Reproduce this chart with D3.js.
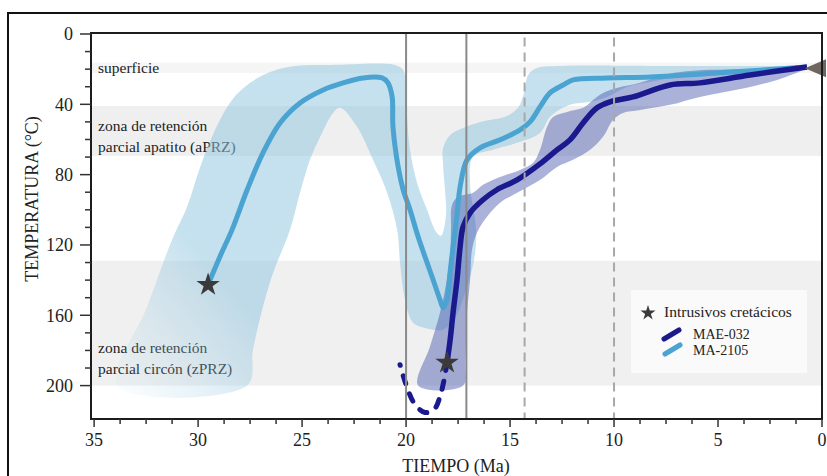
<!DOCTYPE html>
<html>
<head>
<meta charset="utf-8">
<script src="https://cdn.jsdelivr.net/npm/d3@7"></script>
<style>
  body { margin: 0; background: #fff; }
  svg text { font-family: "Liberation Serif", "Times New Roman", serif; fill: #222; }
</style>
</head>
<body>
<svg id="chart" width="827" height="476"></svg>
<script>
// zones (temperature ranges, °C)
const zoneTop = [16.3, 41, 129];
const zoneBottom = [22.2, 69.3, 200];
const zoneLabels = [['superficie'], ['zona de retención', 'parcial apatito (aPRZ)'], ['zona de retención', 'parcial circón (zPRZ)']];

// vertical reference times (Ma)
const eventTimes = [20, 17.1, 14.3, 10];

const xTicks = [35, 30, 25, 20, 15, 10, 5, 0];
const yTicks = [0, 40, 80, 120, 160, 200];

const seriesNames = ['MAE-032', 'MA-2105'];

// MA-2105 path [time Ma, temperature °C]
const ma2105 = [
  [29.52, 142.6], [28.91, 125.6], [28.37, 111.4], [27.64, 88.6], [26.88, 67.6], [26.06, 50.6],
  [25.10, 39.2], [23.99, 31.8], [23.03, 27.8], [22.07, 25.0], [21.15, 25.0], [20.87, 27.8],
  [20.67, 35.8], [20.63, 52.8], [20.38, 75.6], [20.14, 88.6], [19.81, 100], [19.42, 115.3],
  [18.70, 139.8], [18.37, 151.1], [18.22, 155.7], [18.03, 151.1], [17.88, 135.2], [17.74, 121],
  [17.55, 102.8], [17.40, 86.9], [17.07, 71.6], [16.44, 64.8], [15.48, 60.2], [14.52, 54.5],
  [14.04, 50], [13.56, 41.5], [13.08, 33.5], [12.45, 29], [11.97, 26.1], [10.34, 25],
  [8.27, 24.4], [5.05, 22.2], [0.72, 18.8]
];

// MAE-032 path (solid) and its dashed part below the intrusion
const mae032 = [
  [18.03, 186.9], [17.88, 173.9], [17.74, 158.5], [17.55, 139.8], [17.40, 121], [17.26, 109.7],
  [16.92, 101.7], [16.30, 94.3], [15.63, 88.6], [14.66, 83], [13.56, 73.9], [12.74, 65.9],
  [12.12, 60.2], [11.49, 50.6], [10.82, 42], [10.19, 38.6], [9.09, 35.8], [7.31, 29],
  [5.87, 27.8], [3.46, 23.3], [0.72, 18.8]
];
const mae032Early = [
  [18.03, 186.9], [18.17, 196.6], [18.37, 206.3], [18.65, 213.6], [19.09, 215.3],
  [19.57, 210.8], [20.0, 199.4], [20.29, 188.1]
];

// envelope outlines [time, temp]
const ma2105Env = [
  [33.89, 200], [32.45, 155.1], [31.25, 117.0], [30.53, 98.3], [29.90, 75.6], [29.18, 54.5],
  [28.37, 37.5], [27.50, 27.8], [26.54, 21.6], [25.34, 18.2], [23.65, 17.6], [20.53, 17.6],
  [20.14, 20.5], [20.0, 29.0], [19.95, 47.2], [19.81, 65.9], [19.47, 84.7], [18.99, 100],
  [18.56, 112.5], [18.32, 114.8], [18.08, 102.8], [18.13, 88.6], [18.22, 74.4], [18.22, 64.8],
  [17.88, 57.4], [17.26, 53.4], [16.44, 50], [15.14, 46.6], [14.62, 42], [14.33, 33.5],
  [14.13, 23.3], [13.70, 19.3], [12.60, 18.2], [8.27, 18.2], [0.72, 18.8],
  [2.98, 21.0], [5.87, 22.7], [7.31, 25.0], [8.27, 27.3], [9.38, 30.1], [10.34, 35.8],
  [11.15, 38.6], [12.12, 40.3], [13.08, 47.2], [13.56, 56.3], [14.66, 61.9], [15.82, 65.9],
  [16.78, 69.9], [16.92, 85.8], [16.63, 111.4], [16.73, 128.4], [17.12, 145.5], [17.64, 161.4],
  [18.22, 168.2], [19.18, 167.0], [19.66, 164.2], [19.90, 158.5], [20.14, 145.5], [20.29, 130.1],
  [20.43, 111.4], [20.91, 90.3], [21.59, 71.6], [22.36, 52.8], [23.17, 42.0], [23.51, 44.9],
  [24.13, 58.5], [24.62, 71.6], [25.10, 90.3], [25.58, 111.4], [26.39, 135.8], [26.88, 155.1],
  [27.36, 179.5], [27.64, 200]
];
const mae032Env = [
  [19.42, 200], [18.85, 177.8], [18.37, 158.5], [18.08, 142.6], [17.88, 125.6], [17.84, 111.4],
  [17.79, 97.2], [17.50, 92.6], [16.78, 90.3], [16.30, 85.8], [15.48, 81.3], [14.52, 77.3],
  [13.89, 73.3], [13.56, 65.9], [13.22, 52.8], [12.93, 47.2], [12.26, 44.3], [11.49, 42.0],
  [11.01, 37.5], [10.53, 33.5], [9.86, 30.7], [8.75, 27.8], [7.64, 23.3], [6.35, 21.0],
  [3.46, 19.9], [0.72, 18.8],
  [1.88, 25.0], [3.46, 30.1], [5.87, 35.8], [7.31, 40.3], [8.75, 43.2], [9.57, 44.9],
  [10.05, 48.9], [10.53, 58.5], [11.15, 65.9], [11.97, 71.6], [12.74, 75.6], [13.56, 83.0],
  [14.66, 90.3], [15.48, 96.0], [16.11, 104], [16.59, 113.1], [16.83, 122.7], [16.92, 139.8],
  [17.07, 158.5], [17.16, 186.9], [17.26, 200]
];

const intrusions = [[29.52, 142.6], [18.03, 186.9]];
const surfacePoint = [0, 19.5];

const svg = d3.select('#chart');

const x = d3.scaleLinear().domain([35.15, 0]).range([91, 822]);
const y = d3.scaleLinear().domain([0, 219]).range([34, 419]);

const light = '#4aa3d0';
const dark = '#1a1a8e';

// outer frame
svg.append('rect')
  .attr('x', 8).attr('y', 13).attr('width', 830).attr('height', 480)
  .attr('fill', 'none').attr('stroke', '#111').attr('stroke-width', 2);

// zones
const zoneFill = ['#f5f5f5', '#efefef', '#f0f0f0'];
svg.selectAll('rect.zone')
  .data(zoneTop)
  .enter().append('rect')
  .attr('class', 'zone')
  .attr('x', x(35.15)).attr('width', x(0) - x(35.15))
  .attr('y', (d) => y(d))
  .attr('height', (d, i) => y(zoneBottom[i]) - y(d))
  .attr('fill', (d, i) => zoneFill[i]);

const labelAt = [21.9, 55.1, 181.3];
zoneLabels.forEach((lines, i) => {
  const t = svg.append('text')
    .attr('x', 98).attr('y', y(labelAt[i]))
    .style('font-size', '15.5px');
  lines.forEach((l, j) => {
    t.append('tspan').attr('x', 98).attr('dy', j === 0 ? 0 : 21).text(l);
  });
});

// envelopes
const defs = svg.append('defs');
const grad = defs.append('linearGradient')
  .attr('id', 'fadeLeft')
  .attr('gradientUnits', 'userSpaceOnUse')
  .attr('x1', x(33.8)).attr('y1', y(200))
  .attr('x2', x(28.4)).attr('y2', y(145));
grad.append('stop').attr('offset', 0).attr('stop-color', '#a2cfe6').attr('stop-opacity', 0.06);
grad.append('stop').attr('offset', 1).attr('stop-color', '#90c5df').attr('stop-opacity', 0.52);

const area = d3.line()
  .x((d) => x(d[0]))
  .y((d) => y(d[1]))
  .curve(d3.curveCatmullRomClosed.alpha(0.5));

svg.append('path')
  .attr('d', area(ma2105Env))
  .attr('fill', 'url(#fadeLeft)');

svg.append('path')
  .attr('d', area(mae032Env))
  .attr('fill', '#3747a6')
  .attr('fill-opacity', 0.42);

// series lines
const line = d3.line()
  .x((d) => x(d[0]))
  .y((d) => y(d[1]))
  .curve(d3.curveCatmullRom.alpha(0.5));

svg.append('path')
  .attr('d', line(ma2105))
  .attr('fill', 'none')
  .attr('stroke', light)
  .attr('stroke-width', 5)
  .attr('stroke-linejoin', 'round');

svg.append('path')
  .attr('d', line(mae032))
  .attr('fill', 'none')
  .attr('stroke', dark)
  .attr('stroke-width', 5.5)
  .attr('stroke-linejoin', 'round');

svg.append('path')
  .attr('d', line(mae032Early))
  .attr('fill', 'none')
  .attr('stroke', dark)
  .attr('stroke-width', 5)
  .attr('stroke-linecap', 'round')
  .attr('stroke-dasharray', '8,11');

// vertical reference lines
svg.selectAll('line.event')
  .data(eventTimes)
  .enter().append('line')
  .attr('class', 'event')
  .attr('x1', (d) => x(d)).attr('x2', (d) => x(d))
  .attr('y1', (d, i) => i < 2 ? y(0) - 1 : y(2))
  .attr('y2', y(219))
  .attr('stroke', (d, i) => i < 2 ? '#8a8a8a' : '#a8a8a8')
  .attr('stroke-width', 2)
  .attr('stroke-dasharray', (d, i) => i < 2 ? null : '9,6');

// stars
const star = d3.symbol().type(d3.symbolStar);
svg.selectAll('path.star')
  .data(intrusions)
  .enter().append('path')
  .attr('class', 'star')
  .attr('d', star.size(170)())
  .attr('transform', (d) => `translate(${x(d[0])},${y(d[1])})`)
  .attr('fill', '#3a3a3a');

// surface marker
svg.append('path')
  .attr('d', 'M-17,0L4,-9L4,9Z')
  .attr('transform', `translate(${x(surfacePoint[0])},${y(surfacePoint[1])})`)
  .attr('fill', '#6e6561');

// plot frame
svg.append('rect')
  .attr('x', x(35.15)).attr('y', y(0) - 1)
  .attr('width', x(0) - x(35.15)).attr('height', y(219) - y(0) + 1)
  .attr('fill', 'none').attr('stroke', '#1c1c1c').attr('stroke-width', 2);

// axes
const yAxis = svg.append('g');
yAxis.selectAll('line.minor')
  .data(d3.range(0, 201, 10))
  .enter().append('line')
  .attr('x1', (d) => d % 40 === 0 ? 80 : 85).attr('x2', x(35.15))
  .attr('y1', (d) => y(d)).attr('y2', (d) => y(d))
  .attr('stroke', '#333').attr('stroke-width', 1.5);
yAxis.selectAll('text')
  .data(yTicks)
  .enter().append('text')
  .attr('x', 73).attr('y', (d) => y(d))
  .attr('dy', '0.35em')
  .attr('text-anchor', 'end')
  .style('font-size', '18px')
  .text((d) => d);

const xAxis = svg.append('g');
xAxis.selectAll('line.minor')
  .data(d3.range(0, 28.1, 1))
  .enter().append('line')
  .attr('x1', (d) => x(35 - d * 1.25)).attr('x2', (d) => x(35 - d * 1.25))
  .attr('y1', y(219)).attr('y2', (d) => d % 4 === 0 ? y(219) + 8 : y(219) + 5)
  .attr('stroke', '#333').attr('stroke-width', 1.5);
xAxis.selectAll('text')
  .data(xTicks)
  .enter().append('text')
  .attr('x', (d) => x(d)).attr('y', 446)
  .attr('text-anchor', 'middle')
  .style('font-size', '18px')
  .text((d) => d);

svg.append('text')
  .attr('x', 456).attr('y', 472)
  .attr('text-anchor', 'middle')
  .style('font-size', '18px')
  .text('TIEMPO (Ma)');

svg.append('text')
  .attr('transform', 'translate(38,199) rotate(-90)')
  .attr('text-anchor', 'middle')
  .style('font-size', '18px')
  .text('TEMPERATURA (°C)');

// legend
const legend = svg.append('g').attr('transform', 'translate(631,290)');
legend.append('rect')
  .attr('width', 176).attr('height', 83)
  .attr('fill', '#fafafa');
legend.append('path')
  .attr('d', d3.symbol().type(d3.symbolStar).size(70)())
  .attr('transform', 'translate(17,23)')
  .attr('fill', '#3a3a3a');
legend.append('text')
  .attr('x', 33).attr('y', 27)
  .style('font-size', '15.5px')
  .text('Intrusivos cretácicos');
[dark, light].forEach((c, i) => {
  legend.append('line')
    .attr('x1', 33 + i).attr('y1', 49 + i * 15)
    .attr('x2', 48 + i).attr('y2', 40 + i * 15)
    .attr('stroke', c).attr('stroke-width', 5)
    .attr('stroke-linecap', 'round');
  legend.append('text')
    .attr('x', 62).attr('y', 49 + i * 16)
    .style('font-size', '14px')
    .text(seriesNames[i]);
});
</script>
</body>
</html>
